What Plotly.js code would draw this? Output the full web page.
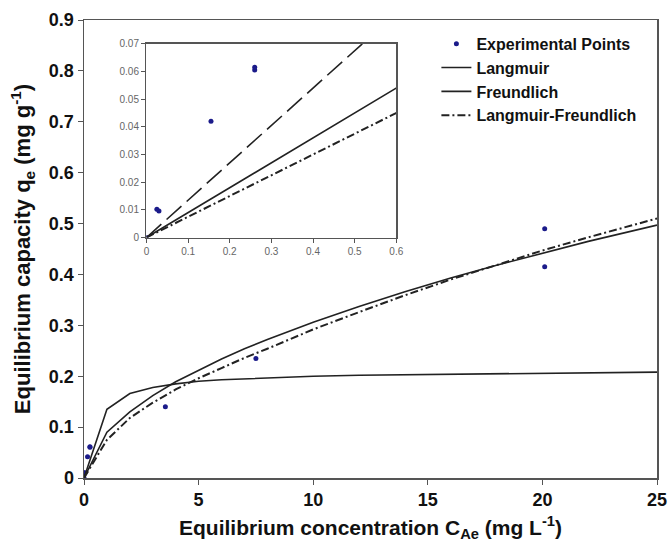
<!DOCTYPE html>
<html>
<head>
<meta charset="utf-8">
<script src="https://cdn.plot.ly/plotly-3.0.1.min.js"></script>
<style>html,body{margin:0;padding:0;background:#fff;}#chart{width:669px;height:542px;}</style>
</head>
<body>
<div id="chart"></div>
<script>
// Experimental points
const expX = [0, 0.025, 0.03, 0.155, 0.26, 0.26, 3.55, 7.5, 20.1, 20.1];
const expY = [0, 0.0102, 0.0096, 0.042, 0.0605, 0.0615, 0.14, 0.235, 0.415, 0.49];

// Model curves
const modelX = [0, 1, 2, 3, 4, 5, 6, 7, 8, 10, 12, 14, 16, 18, 20, 22, 25];
const langmuirY = [0, 0.135, 0.166, 0.178, 0.185, 0.190, 0.193, 0.195, 0.197, 0.200, 0.202, 0.203, 0.204, 0.205, 0.206, 0.207, 0.208];
const freundlichY = [0, 0.090, 0.130, 0.162, 0.189, 0.212, 0.234, 0.254, 0.272, 0.306, 0.337, 0.366, 0.393, 0.418, 0.442, 0.465, 0.497];
const lfY = [0, 0.075, 0.118, 0.148, 0.174, 0.196, 0.216, 0.236, 0.254, 0.292, 0.326, 0.359, 0.390, 0.419, 0.447, 0.473, 0.510];

const xTicks = [0, 5, 10, 15, 20, 25];
const yTicks = [0, 0.1, 0.2, 0.3, 0.4, 0.5, 0.6, 0.7, 0.8, 0.9];
const insetXTicks = [0, 0.1, 0.2, 0.3, 0.4, 0.5, 0.6];
const insetYTicks = [0, 0.01, 0.02, 0.03, 0.04, 0.05, 0.06, 0.07];

const markerColor = '#1b1b8a';
const lineColor = '#222';
const FAM = 'Liberation Sans, Arial, sans-serif';

const traces = [
  {x: expX, y: expY, mode: 'markers', name: 'Experimental Points',
   marker: {color: markerColor, size: 5, symbol: 'circle'}},
  {x: modelX, y: langmuirY, mode: 'lines', name: 'Langmuir',
   line: {color: lineColor, width: 1.6}},
  {x: modelX, y: freundlichY, mode: 'lines', name: 'Freundlich',
   line: {color: lineColor, width: 1.6}},
  {x: modelX, y: lfY, mode: 'lines', name: 'Langmuir-Freundlich',
   line: {color: lineColor, width: 2, dash: '8px,3px,2px,3px'}},
  // inset
  {x: expX, y: expY, mode: 'markers', xaxis: 'x2', yaxis: 'y2', showlegend: false,
   marker: {color: markerColor, size: 5, symbol: 'circle'}},
  {x: modelX, y: langmuirY, mode: 'lines', xaxis: 'x2', yaxis: 'y2', showlegend: false,
   line: {color: lineColor, width: 1.6, dash: '20px,7px'}},
  {x: modelX, y: freundlichY, mode: 'lines', xaxis: 'x2', yaxis: 'y2', showlegend: false,
   line: {color: lineColor, width: 1.6}},
  {x: modelX, y: lfY, mode: 'lines', xaxis: 'x2', yaxis: 'y2', showlegend: false,
   line: {color: lineColor, width: 2, dash: '8px,3px,2px,3px'}}
];

const tickBold = {family: FAM, size: 18, color: '#111', weight: 'bold'};
const insetFont = {family: FAM, size: 10, color: '#666'};

const layout = {
  width: 669, height: 542,
  margin: {l: 84, r: 12, t: 20, b: 64},
  paper_bgcolor: '#fff', plot_bgcolor: '#fff',
  showlegend: true,
  legend: {x: 0.615, y: 0.985, xanchor: 'left', yanchor: 'top', bgcolor: 'rgba(0,0,0,0)',
    font: {family: FAM, size: 16, color: '#111', weight: 'bold'},
    tracegroupgap: 0, itemwidth: 30},
  xaxis: {range: [0, 25], tickvals: xTicks, ticktext: xTicks.map(String), ticks: 'outside', ticklen: 5,
    tickcolor: '#555', showline: true, linecolor: '#555', linewidth: 1.5, mirror: true,
    showgrid: false, zeroline: false, tickfont: tickBold,
    title: {text: 'Equilibrium concentration C<sub>Ae</sub> (mg L<sup>-1</sup>)', font: {family: FAM, size: 21, color: '#111', weight: 'bold'}, standoff: 14}},
  yaxis: {range: [0, 0.9], tickvals: yTicks, ticktext: yTicks.map(v => v === 0 ? '0' : v.toFixed(1)), ticks: 'outside', ticklen: 5,
    tickcolor: '#555', showline: true, linecolor: '#555', linewidth: 1.5, mirror: true,
    showgrid: false, zeroline: false, tickfont: tickBold,
    title: {text: 'Equilibrium capacity q<sub>e</sub> (mg g<sup>-1</sup>)', font: {family: FAM, size: 22, color: '#111', weight: 'bold'}, standoff: 12}},
  xaxis2: {domain: [0.109, 0.545], anchor: 'y2', range: [0, 0.6], tickvals: insetXTicks,
    ticktext: insetXTicks.map(v => v === 0 ? '0' : v.toFixed(1)), ticks: 'outside', ticklen: 4,
    tickcolor: '#555', showline: true, linecolor: '#555', linewidth: 1.5, mirror: true,
    showgrid: false, zeroline: false, tickfont: insetFont},
  yaxis2: {domain: [0.525, 0.948], anchor: 'x2', range: [0, 0.07], tickvals: insetYTicks,
    ticktext: insetYTicks.map(v => v === 0 ? '0' : v.toFixed(2)), ticks: 'outside', ticklen: 4,
    tickcolor: '#555', showline: true, linecolor: '#555', linewidth: 1.5, mirror: true,
    showgrid: false, zeroline: false, tickfont: insetFont}
};

Plotly.newPlot('chart', traces, layout, {staticPlot: true, displayModeBar: false});
</script>
</body>
</html>
